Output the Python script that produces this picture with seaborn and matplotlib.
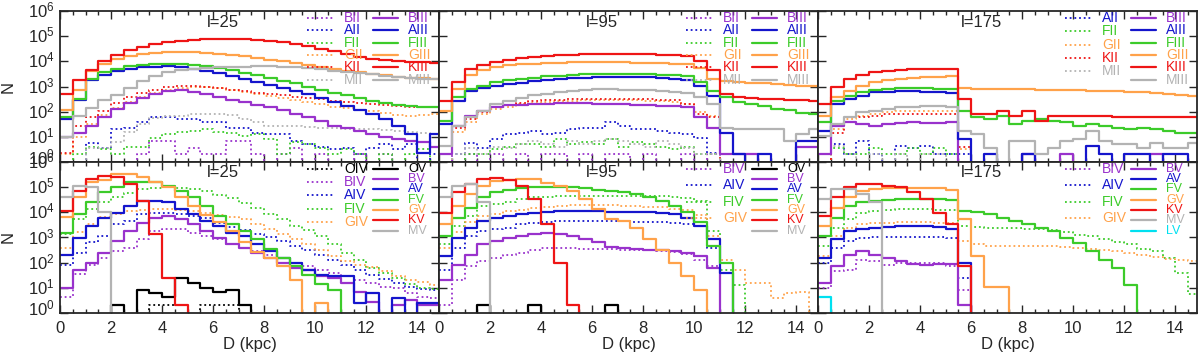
import numpy as np
import pandas as pd
import matplotlib
matplotlib.use("Agg")
import matplotlib.pyplot as plt
import matplotlib.ticker as mticker
from matplotlib import font_manager
from matplotlib.transforms import ScaledTranslation
import seaborn as sns

# 0.5 kpc distance bins
EDGES = [round(0.5 * i, 2) for i in range(31)]
CENTERS = [e + 0.25 for e in EDGES[:-1]]

_ = None  # empty bin (N = 0)

# ---- log10(N) per bin ----
# top row, l=25: bright giants (II, dotted) and giants (III, solid)
BII_25 = [_, _, _, _, _, _, 0.3, 0.84, 0.84, 0.3, 0.57, 0.3, 0.3, 0.84, 0.84,
          0.3, _, 0.3, 0.57, _, 0.3, _, _, 0.3, _, 0.3, _, _, _, _]
AII_25 = [_, _, 0.77, 0.57, 1.3, 1.37, 1.57, 1.77, 1.77, 1.7, 1.7, 1.57, 1.57, 1.37, 1.37,
          1.17, 1.1, 1.1, 0.84, 0.7, 0.6, 0.5, 0.57, 0.3, 0.57, 0.7, 0.5, 0.7, _, 0.3]
FII_25 = [_, 0.3, 0.6, 0.5, 0.3, 0.6, 0.6, 0.95, 1.1, 1.2, 1.25, 1.3, 1.2, 1.15, 1.05,
          1.1, 0.9, 0.3, 0.8, 0.7, 0.55, 0.3, 0.5, 0.3, _, 0.3, _, 0.3, 0.5, _]
GII_25 = [0.3, 1.0, 1.5, 1.85, 2.15, 2.4, 2.6, 2.75, 2.87, 2.95, 2.98, 2.97, 2.93, 2.87, 2.8,
          2.72, 2.64, 2.56, 2.48, 2.4, 2.3, 2.2, 2.14, 2.08, 2.02, 1.95, 1.86, 1.84, 1.85, 1.9]
KII_25 = [0.37, 1.44, 1.77, 2.04, 2.35, 2.57, 2.75, 2.88, 2.97, 3.02, 3.04, 3.0, 2.95, 2.88, 2.82,
          2.76, 2.7, 2.66, 2.6, 2.56, 2.5, 2.44, 2.39, 2.34, 2.3, 2.26, 2.22, 2.2, 2.18, 2.2]
MII_25 = [_, _, 0.57, 0.57, 0.8, 1.2, 1.5, 1.75, 1.84, 1.84, 1.9, 1.9, 1.9, 1.88, 1.7,
          1.6, 1.44, 1.44, 1.44, 1.4, 1.37, 1.37, 1.33, 1.3, 1.3, 1.27, 1.24, 1.2, 1.15, 1.1]
BIII_25 = [1.0, 1.17, 1.44, 1.77, 2.1, 2.35, 2.55, 2.7, 2.82, 2.87, 2.8, 2.7, 2.6, 2.47, 2.38,
           2.28, 2.17, 2.05, 1.92, 1.8, 1.62, 1.45, 1.35, 1.22, 1.1, 1.0, 0.9, 0.85, 0.78, 0.6]
AIII_25 = [1.7, 2.47, 3.24, 3.44, 3.6, 3.7, 3.76, 3.79, 3.8, 3.78, 3.7, 3.62, 3.53, 3.42, 3.3,
           3.18, 3.05, 2.95, 2.83, 2.7, 2.55, 2.38, 2.22, 2.05, 1.9, 1.7, 1.45, 1.1, 0.35, 1.1]
FIII_25 = [1.77, 2.5, 3.3, 3.57, 3.7, 3.8, 3.86, 3.89, 3.9, 3.9, 3.87, 3.82, 3.74, 3.64, 3.54,
           3.44, 3.33, 3.23, 3.12, 3.0, 2.88, 2.76, 2.66, 2.55, 2.44, 2.35, 2.27, 2.22, 2.19, 2.17]
GIII_25 = [2.05, 2.85, 3.6, 3.9, 4.1, 4.22, 4.29, 4.33, 4.36, 4.37, 4.36, 4.33, 4.29, 4.25, 4.2,
           4.14, 4.07, 4.01, 3.94, 3.86, 3.78, 3.7, 3.63, 3.56, 3.5, 3.44, 3.38, 3.35, 3.33, 3.31]
KIII_25 = [2.7, 3.25, 3.65, 4.0, 4.25, 4.45, 4.57, 4.68, 4.76, 4.82, 4.86, 4.87, 4.88, 4.88, 4.87,
           4.85, 4.81, 4.76, 4.68, 4.6, 4.5, 4.4, 4.28, 4.17, 4.08, 4.04, 4.01, 3.99, 3.97, 3.95]
MIII_25 = [1.0, 1.84, 2.15, 2.45, 2.65, 2.95, 3.22, 3.42, 3.56, 3.64, 3.7, 3.74, 3.76, 3.78, 3.79,
           3.8, 3.8, 3.79, 3.77, 3.74, 3.69, 3.63, 3.58, 3.53, 3.48, 3.43, 3.37, 3.33, 3.3, 3.28]

# top row, l=95
BII_95 = [0.3, _, 0.3, _, 0.3, _, 0.3, _, 0.3, 0.3, _, 0.3, _, 0.3, 0.3,
          _, 0.3, _, _, 0.3, _, 0.3, _, _, _, _, _, _, _, _]
AII_95 = [_, 0.3, 0.77, 0.57, 0.9, 1.1, 1.17, 1.24, 1.1, 1.17, 1.3, 1.37, 1.37, 1.57, 1.45,
          1.3, 1.3, 1.24, 1.17, 1.1, 0.97, 0.37, _, _, _, _, _, _, _, _]
FII_95 = [_, _, 0.3, 0.3, 0.5, 0.6, 0.7, 0.7, 0.6, 0.9, 0.7, 0.8, 0.7, 0.9, 0.6,
          0.8, 0.7, 0.6, 0.5, 0.6, 0.3, 0.3, _, _, _, _, _, _, _, _]
GII_95 = [_, 1.2, 1.6, 1.9, 2.1, 2.2, 2.3, 2.36, 2.4, 2.42, 2.44, 2.45, 2.45, 2.46, 2.46,
          2.45, 2.44, 2.42, 2.4, 2.3, 2.0, 1.84, _, _, _, _, _, _, _, _]
KII_95 = [0.3, 1.37, 1.7, 1.97, 2.17, 2.28, 2.36, 2.42, 2.46, 2.48, 2.5, 2.5, 2.5, 2.5, 2.5,
          2.5, 2.5, 2.48, 2.45, 2.3, 1.9, 1.8, _, _, _, _, _, _, _, _]
MII_95 = [_, 0.3, 0.57, 0.3, 0.6, 0.57, 0.7, 0.84, 0.7, 0.6, 0.84, 0.7, 0.84, 0.9, 0.84,
          0.7, 0.6, 0.84, 0.7, 0.57, 0.3, 0.3, _, _, _, _, _, _, _, _]
BIII_95 = [0.3, 1.44, 1.84, 2.04, 2.17, 2.25, 2.28, 2.3, 2.32, 2.33, 2.33, 2.33, 2.32, 2.3, 2.3,
           2.28, 2.26, 2.24, 2.22, 2.17, 1.77, 1.37, 0.3, 0.3, 0.3, _, _, _, 0.6, 0.6]
AIII_95 = [1.5, 2.44, 2.84, 2.93, 3.04, 3.1, 3.15, 3.2, 3.25, 3.29, 3.32, 3.35, 3.37, 3.38, 3.38,
           3.37, 3.36, 3.34, 3.3, 3.24, 3.04, 2.64, 1.17, 0.3, _, 0.3, _, _, 0.84, 0.84]
FIII_95 = [1.64, 2.57, 2.9, 3.04, 3.17, 3.24, 3.3, 3.35, 3.4, 3.43, 3.46, 3.48, 3.5, 3.5, 3.5,
           3.49, 3.48, 3.46, 3.44, 3.4, 3.17, 2.84, 2.57, 2.4, 2.3, 2.22, 2.12, 2.05, 1.95, 1.9]
GIII_95 = [2.04, 2.9, 3.44, 3.64, 3.77, 3.84, 3.88, 3.91, 3.93, 3.95, 3.96, 3.97, 3.97, 3.97, 3.96,
           3.95, 3.94, 3.92, 3.9, 3.88, 3.72, 3.3, 3.2, 3.17, 3.14, 3.12, 3.1, 3.07, 3.04, 3.02]
KIII_95 = [2.44, 3.17, 3.7, 3.84, 3.97, 4.07, 4.13, 4.18, 4.22, 4.25, 4.27, 4.29, 4.3, 4.3, 4.3,
           4.29, 4.28, 4.26, 4.24, 4.2, 4.0, 3.64, 2.7, 2.6, 2.55, 2.52, 2.5, 2.47, 2.45, 2.42]
MIII_95 = [0.64, 1.44, 1.77, 2.04, 2.3, 2.44, 2.55, 2.65, 2.72, 2.78, 2.82, 2.86, 2.9, 2.9, 2.88,
           2.86, 2.85, 2.84, 2.8, 2.76, 2.57, 2.3, 1.37, 1.33, 1.3, 1.3, 1.3, 0.84, 1.1, 1.3]

# top row, l=175
AII_175 = [_, 0.7, 0.3, 0.84, 0.3, _, 0.64, 0.57, 0.64, 0.3, 0.3, 0.3, _, _, _,
           _, _, _, _, _, _, _, _, _, _, _, _, _, _, _]
FII_175 = [_, 0.57, 0.3, 0.3, 0.57, 0.3, 0.3, 0.57, 0.3, 0.57, 0.3, _, _, _, _,
           _, _, _, _, _, _, _, _, _, _, _, _, _, _, _]
GII_175 = [_, 1.3, 1.7, 1.84, 1.9, 2.0, 2.04, 2.04, 2.04, 2.04, 2.04, 0.5, _, _, _,
           _, _, _, _, _, _, _, _, _, _, _, _, _, _, _]
KII_175 = [_, 1.17, 1.77, 1.8, 1.84, 1.9, 1.9, 1.92, 1.9, 1.9, 1.92, 0.6, _, _, _,
           _, _, _, _, _, _, _, _, _, _, _, _, _, _, _]
MII_175 = [0.3, 0.64, 0.3, _, 0.3, _, 0.3, _, 0.3, 0.3, _, _, _, _, _,
           _, _, _, _, _, _, _, _, _, _, _, _, _, _, _]
BIII_175 = [0.3, 1.44, 1.57, 1.5, 1.44, 1.5, 1.55, 1.57, 1.55, 1.55, 1.57, _, _, _, _,
            _, 0.3, _, _, 0.3, _, _, _, _, _, _, 0.3, _, _, _]
AIII_175 = [1.24, 2.3, 2.5, 2.64, 2.77, 2.8, 2.82, 2.82, 2.8, 2.77, 2.73, 0.9, _, 0.3, _,
            _, 0.3, _, _, _, _, 0.64, 0.3, _, 0.3, 0.3, _, 0.3, 0.3, _]
FIII_175 = [1.57, 2.44, 2.64, 2.77, 2.87, 2.92, 2.93, 2.93, 2.93, 2.92, 2.9, 2.04, 1.77, 1.7, 1.84,
            1.5, 1.64, 1.7, 1.64, 1.57, 1.44, 1.5, 1.44, 1.37, 1.3, 1.37, 1.3, 1.24, 1.17, 1.17]
GIII_175 = [1.84, 2.57, 2.84, 3.04, 3.17, 3.24, 3.3, 3.33, 3.36, 3.38, 3.4, 2.93, 2.92, 2.92, 2.91,
            2.9, 2.89, 2.88, 2.87, 2.86, 2.85, 2.84, 2.83, 2.82, 2.8, 2.78, 2.74, 2.7, 2.67, 2.64]
KIII_175 = [2.3, 2.97, 3.3, 3.44, 3.57, 3.62, 3.66, 3.68, 3.7, 3.7, 3.7, 2.5, 1.9, 1.9, 2.04,
            1.84, 2.04, 1.64, 1.84, 1.84, 1.84, 1.84, 1.84, 1.8, 1.77, 1.77, 1.77, 1.77, 1.77, 1.77]
MIII_175 = [1.04, 1.5, 1.77, 2.0, 2.04, 2.1, 2.17, 2.2, 2.22, 2.24, 2.17, 1.24, 1.1, 0.57, _,
            0.84, 0.84, 0.3, 0.57, 0.84, 0.9, 1.24, 0.84, 0.7, 0.7, 0.57, 0.77, 0.57, 0.57, 0.77]

# bottom row, l=25: subgiants (IV, dotted) and dwarfs (V, solid)
OIV_25 = [_, _, _, _, _, _, _, 0.32, 0.32, 0.32, _, 0.32, 0.32, 0.32, _,
          _, _, _, _, _, _, _, _, _, _, _, _, _, _, _]
BIV_25 = [0.65, 1.55, 1.9, 2.2, 2.45, 2.6, 2.92, 3.25, 3.32, 3.32, 3.19, 3.05, 2.92, 2.72, 2.6,
          2.45, 2.32, 2.19, 1.99, 1.85, 1.72, 1.59, 1.45, 1.32, 1.19, 1.05, 0.99, 0.79, 0.65, 0.59]
AIV_25 = [1.9, 2.4, 2.8, 3.05, 3.52, 3.65, 3.95, 3.99, 3.99, 3.92, 3.85, 3.79, 3.59, 3.42, 3.3,
          3.15, 3.0, 2.85, 2.68, 2.5, 2.3, 2.1, 1.9, 1.7, 1.5, 1.35, 1.2, 1.05, 0.95, 0.9]
FIV_25 = [3.12, 3.72, 4.12, 4.39, 4.6, 4.78, 4.92, 4.97, 4.99, 4.97, 4.93, 4.85, 4.68, 4.55, 4.38,
          4.19, 3.95, 3.72, 3.45, 3.3, 3.05, 2.75, 2.4, 2.1, 1.8, 1.6, 1.4, 1.15, 1.0, 0.95]
GIV_25 = [2.6, 3.2, 3.55, 3.8, 3.95, 4.05, 4.1, 4.12, 4.12, 4.1, 4.05, 3.98, 3.9, 3.8, 3.72,
          3.55, 3.35, 3.15, 2.95, 2.75, 2.5, 2.25, 2.05, 1.9, 1.82, 1.65, 1.45, 1.32, 1.22, 1.12]
OV_25 = [_, _, _, _, 0.32, _, 0.92, 0.79, 0.65, 1.39, 1.19, 0.99, 0.85, 0.92, 0.32,
         _, _, _, _, _, _, _, _, _, _, _, _, _, _, _]
BV_25 = [0.99, 1.72, 1.99, 2.4, 2.85, 3.25, 3.59, 3.79, 3.85, 3.72, 3.52, 3.25, 2.99, 2.72, 2.59,
         2.39, 2.2, 2.0, 1.79, 1.72, 1.45, 1.39, 1.2, 0.85, 0.45, _, 0.32, 0.5, 0.32, 0.3]
AV_25 = [2.3, 2.99, 3.45, 3.79, 3.99, 4.25, 4.45, 4.45, 4.39, 4.12, 3.92, 3.65, 3.45, 3.19, 3.05,
         2.75, 2.45, 2.2, 1.99, 1.72, 1.52, 1.45, 1.45, 0.39, 0.79, _, 0.6, _, 0.4, 0.4]
FV_25 = [3.19, 3.92, 4.39, 4.79, 4.99, 5.19, 5.21, 5.19, 5.05, 4.85, 4.59, 4.25, 3.85, 3.52, 3.25,
         2.92, 2.55, 2.2, 1.85, 1.5, 1.15, 0.92, _, _, _, _, _, _, _, _]
GV_25 = [3.8, 4.6, 5.19, 5.3, 5.52, 5.52, 5.42, 5.2, 5.0, 4.6, 4.25, 3.9, 3.62, 3.25, 2.82,
         2.42, 2.19, 1.85, 1.32, _, 0.39, _, _, _, _, _, _, _, _, _]
KV_25 = [4.05, 4.85, 5.32, 5.45, 5.39, 5.12, 4.45, 3.12, 1.39, 0.32, _, _, _, _, _,
         _, _, _, _, _, _, _, _, _, _, _, _, _, _, _]
MV_25 = [4.6, 5.05, 5.0, 4.0, _, _, _, _, _, _, _, _, _, _, _,
         _, _, _, _, _, _, _, _, _, _, _, _, _, _, _]

# bottom row, l=95
BIV_95 = [0.32, 1.32, 1.85, 2.05, 2.19, 2.32, 2.39, 2.5, 2.59, 2.6, 2.58, 2.56, 2.55, 2.53, 2.52,
          2.5, 2.5, 2.48, 2.42, 2.35, 2.12, 1.85, _, _, _, _, _, _, _, _]
AIV_95 = [1.72, 2.59, 3.05, 3.25, 3.32, 3.39, 3.52, 3.59, 3.62, 3.65, 3.66, 3.66, 3.66, 3.65, 3.64,
          3.63, 3.62, 3.6, 3.58, 3.55, 3.45, 2.59, 1.59, _, _, _, _, _, _, _]
FIV_95 = [2.72, 3.45, 3.85, 4.25, 4.32, 4.39, 4.52, 4.59, 4.62, 4.63, 4.65, 4.66, 4.66, 4.66, 4.66,
          4.66, 4.65, 4.64, 4.62, 4.58, 4.45, 3.25, 1.72, 1.12, _, _, _, _, _, _]
GIV_95 = [2.6, 3.2, 3.6, 3.85, 3.95, 4.05, 4.1, 4.18, 4.22, 4.27, 4.3, 4.3, 4.3, 4.28, 4.27,
          4.25, 4.22, 4.2, 4.15, 4.1, 3.9, 3.05, 2.12, 1.72, 1.19, 1.19, 0.59, 0.79, 0.85, _]
OV_95 = [_, _, _, 0.32, _, _, _, 0.32, _, _, _, _, _, 0.32, _,
         _, _, _, _, _, _, _, _, _, _, _, _, _, _, _]
BV_95 = [1.32, 1.92, 2.32, 2.72, 2.85, 2.99, 3.05, 3.12, 3.19, 3.15, 3.05, 2.95, 2.8, 2.62, 2.58,
         2.55, 2.52, 2.5, 2.45, 2.38, 2.25, 1.79, _, _, _, _, _, _, _, _]
AV_95 = [2.25, 2.99, 3.39, 3.65, 3.79, 3.85, 3.92, 3.99, 4.03, 4.05, 4.05, 4.05, 4.04, 4.03, 4.02,
         4.01, 4.0, 3.97, 3.92, 3.79, 3.45, 2.92, 1.59, _, _, _, _, _, _, _]
FV_95 = [3.05, 3.79, 4.19, 4.59, 4.79, 4.89, 4.95, 4.99, 4.99, 5.0, 4.99, 4.95, 4.9, 4.85, 4.8,
         4.72, 4.6, 4.45, 4.25, 4.0, 3.6, 2.65, 1.99, _, _, _, _, _, _, _]
GV_95 = [3.52, 4.25, 4.72, 5.05, 5.25, 5.29, 5.32, 5.32, 5.16, 5.05, 4.85, 4.52, 4.12, 3.72, 3.65,
         3.39, 2.92, 2.52, 1.99, 1.45, 0.92, _, _, _, _, _, _, _, _, _]
KV_95 = [3.99, 4.79, 5.12, 5.32, 5.35, 5.29, 5.05, 4.52, 3.52, 1.99, 0.32, _, _, _, _,
         _, _, _, _, _, _, _, _, _, _, _, _, _, _, _]
MV_95 = [4.59, 5.05, 5.12, 4.39, _, _, _, _, _, _, _, _, _, _, _,
         _, _, _, _, _, _, _, _, _, _, _, _, _, _, _]

# bottom row, l=175
BIV_175 = [1.0, 1.65, 1.72, 2.12, 2.05, 1.92, 1.99, 1.99, 1.99, 1.97, 1.85, 0.92, _, _, _,
           _, _, _, _, _, _, _, _, _, _, _, _, _, _, _]
AIV_175 = [1.99, 2.59, 2.85, 2.99, 3.0, 3.01, 3.02, 3.02, 3.01, 3.0, 2.99, 1.39, _, _, _,
           _, _, _, _, _, _, _, _, _, _, _, _, _, _, _]
FIV_175 = [2.65, 3.39, 3.72, 3.99, 4.05, 4.08, 4.12, 4.12, 4.12, 4.11, 4.1, 3.45, 3.4, 3.39, 3.38,
           3.37, 3.35, 3.33, 3.3, 3.2, 3.1, 3.05, 2.95, 2.8, 2.72, 2.55, 2.45, 2.2, 1.6, 0.75]
GIV_175 = [2.25, 3.05, 3.39, 3.52, 3.57, 3.59, 3.6, 3.6, 3.6, 3.59, 3.58, 2.85, 2.72, 2.68, 2.65,
           2.66, 2.68, 2.68, 2.65, 2.62, 2.6, 2.55, 2.5, 2.45, 2.38, 2.3, 2.22, 2.15, 2.12, 2.05]
BV_175 = [1.19, 1.85, 2.32, 2.45, 2.32, 2.19, 2.05, 1.95, 1.92, 1.93, 1.95, 0.32, _, _, _,
          _, _, _, _, _, _, _, _, _, _, _, _, _, _, _]
AV_175 = [2.19, 2.92, 3.25, 3.32, 3.39, 3.42, 3.45, 3.45, 3.44, 3.4, 3.35, 1.99, _, _, _,
          _, _, _, _, _, _, _, _, _, _, _, _, _, _, _]
FV_175 = [3.05, 3.79, 4.25, 4.39, 4.45, 4.49, 4.52, 4.53, 4.53, 4.52, 4.5, 4.05, 4.01, 3.92, 3.79,
          3.65, 3.52, 3.39, 3.25, 2.99, 2.79, 2.45, 2.12, 1.79, 1.12, _, _, _, _, _]
GV_175 = [3.45, 4.19, 4.59, 4.85, 4.92, 4.95, 4.96, 4.96, 4.96, 4.95, 4.89, 3.72, 2.25, 1.05, 1.05,
          _, _, _, _, _, _, _, _, _, _, _, _, _, _, _]
KV_175 = [3.85, 4.59, 4.99, 5.12, 5.12, 5.05, 4.99, 4.79, 4.52, 3.99, 3.52, 1.85, _, _, _,
          _, _, _, _, _, _, _, _, _, _, _, _, _, _, _]
MV_175 = [4.52, 4.92, 4.92, 4.72, 4.39, _, _, _, _, _, _, _, _, _, _,
          _, _, _, _, _, _, _, _, _, _, _, _, _, _, _]
LV_175 = [0.65, _, _, _, _, _, _, _, _, _, _, _, _, _, _,
          _, _, _, _, _, _, _, _, _, _, _, _, _, _, _]

COLORS = {"O": "black", "B": "#9932CC", "A": "#1515CC", "F": "#3CCB2A",
          "G": "#FFA24A", "K": "#EE1515", "M": "#B3B3B3", "L": "#00E0F0"}

# (title, dotted series, solid series) for each panel, row by row
PANELS = [
    ("l=25",
     [("BII", BII_25), ("AII", AII_25), ("FII", FII_25), ("GII", GII_25), ("KII", KII_25), ("MII", MII_25)],
     [("BIII", BIII_25), ("AIII", AIII_25), ("FIII", FIII_25), ("GIII", GIII_25), ("KIII", KIII_25), ("MIII", MIII_25)]),
    ("l=95",
     [("BII", BII_95), ("AII", AII_95), ("FII", FII_95), ("GII", GII_95), ("KII", KII_95), ("MII", MII_95)],
     [("BIII", BIII_95), ("AIII", AIII_95), ("FIII", FIII_95), ("GIII", GIII_95), ("KIII", KIII_95), ("MIII", MIII_95)]),
    ("l=175",
     [("AII", AII_175), ("FII", FII_175), ("GII", GII_175), ("KII", KII_175), ("MII", MII_175)],
     [("BIII", BIII_175), ("AIII", AIII_175), ("FIII", FIII_175), ("GIII", GIII_175), ("KIII", KIII_175), ("MIII", MIII_175)]),
    ("l=25",
     [("OIV", OIV_25), ("BIV", BIV_25), ("AIV", AIV_25), ("FIV", FIV_25), ("GIV", GIV_25)],
     [("OV", OV_25), ("BV", BV_25), ("AV", AV_25), ("FV", FV_25), ("GV", GV_25), ("KV", KV_25), ("MV", MV_25)]),
    ("l=95",
     [("BIV", BIV_95), ("AIV", AIV_95), ("FIV", FIV_95), ("GIV", GIV_95)],
     [("OV", OV_95), ("BV", BV_95), ("AV", AV_95), ("FV", FV_95), ("GV", GV_95), ("KV", KV_95), ("MV", MV_95)]),
    ("l=175",
     [("BIV", BIV_175), ("AIV", AIV_175), ("FIV", FIV_175), ("GIV", GIV_175)],
     [("BV", BV_175), ("AV", AV_175), ("FV", FV_175), ("GV", GV_175), ("KV", KV_175), ("MV", MV_175), ("LV", LV_175)]),
]

DOTTED = dict(linestyle=(0, (1, 1.6)), linewidth=1.3)
SOLID = dict(linestyle="-", linewidth=1.6)

sns.set_style("ticks")
plt.rcParams["font.family"] = ["Liberation Sans", "DejaVu Sans"]
plt.rcParams["mathtext.default"] = "regular"

try:
    font_manager.findfont("Liberation Sans Narrow", fallback_to_default=False)
    KEY_FONT, KEY_SIZE = ["Liberation Sans Narrow", "Liberation Sans"], 11.5
except ValueError:
    KEY_FONT, KEY_SIZE = ["Liberation Sans", "DejaVu Sans"], 10


def draw_hist(ax, name, logn, dotted):
    counts = [0.0 if v is None else 10.0 ** v for v in logn]
    df = pd.DataFrame({"dist": CENTERS, "n": counts})
    style = DOTTED if dotted else SOLID
    sns.histplot(data=df, x="dist", weights="n", bins=EDGES, element="step", fill=False,
                 color=COLORS[name[0]], ax=ax, **style)


def draw_key(ax, entries, x0, x1, xt, dotted):
    # hand-made key column, spacing shrinks with the number of entries
    step = {4: 0.109, 5: 0.088, 6: 0.082, 7: 0.068}[len(entries)]
    size = KEY_SIZE - 1 if len(entries) == 7 else KEY_SIZE
    style = DOTTED if dotted else SOLID
    for i, (name, _vals) in enumerate(entries):
        y = 0.954 - i * step
        col = COLORS[name[0]]
        ax.plot([x0, x1], [y, y], transform=ax.transAxes, color=col, clip_on=False, **style)
        ax.text(xt, y, name, transform=ax.transAxes, color=col, fontsize=size,
                family=KEY_FONT, ha="left", va="center")


fig, axes = plt.subplots(2, 3, figsize=(12, 3.56), dpi=100, sharex=True, sharey=True)
fig.subplots_adjust(left=0.05, right=0.9975, top=0.969, bottom=0.121, wspace=0, hspace=0)

for ax, (title, dotted, solid) in zip(axes.flat, PANELS):
    for name, vals in dotted:
        draw_hist(ax, name, vals, True)
    for name, vals in solid:
        draw_hist(ax, name, vals, False)

    ax.set_yscale("log")
    ax.set_xlim(0, 14.85)
    ax.set_ylim(1, 1e6)
    ax.set_xlabel("")
    ax.set_ylabel("")
    ax.xaxis.set_major_locator(mticker.MultipleLocator(2))
    ax.xaxis.set_minor_locator(mticker.MultipleLocator(0.5))
    ax.yaxis.set_major_locator(mticker.LogLocator(base=10, numticks=10))
    ax.yaxis.set_minor_locator(mticker.NullLocator())
    ax.tick_params(which="both", direction="in", top=True, right=True, width=1, labelsize=12)
    ax.tick_params(which="major", length=6)
    ax.tick_params(which="minor", length=3)
    ax.tick_params(axis="x", pad=6)
    ax.tick_params(axis="y", pad=4)
    for s in ax.spines.values():
        s.set_linewidth(1.3)

    ax.text(6.4, 0.927, title, transform=ax.get_xaxis_transform(),
            ha="center", va="center", fontsize=12)
    draw_key(ax, dotted, 0.652, 0.722, 0.75, True)
    draw_key(ax, solid, 0.826, 0.892, 0.918, False)

for ax in axes[:, 0]:
    ax.set_ylabel("N", fontsize=12)
    ax.yaxis.set_label_coords(-0.118, 0.5)
for ax in axes[1, :]:
    ax.set_xlabel("D (kpc)", fontsize=12)
    ax.xaxis.set_label_coords(0.5, -0.16)

# nudge the y tick labels up a little, the 10^0 ones a bit more
fig.canvas.draw()
for ax in axes[:, 0]:
    for tick in ax.yaxis.get_major_ticks():
        dy = 6 if abs(tick.get_loc() - 1) < 1e-9 else 2
        tick.label1.set_transform(tick.label1.get_transform()
                                  + ScaledTranslation(0, dy / 100, fig.dpi_scale_trans))

plt.savefig("out.png", dpi=100)
